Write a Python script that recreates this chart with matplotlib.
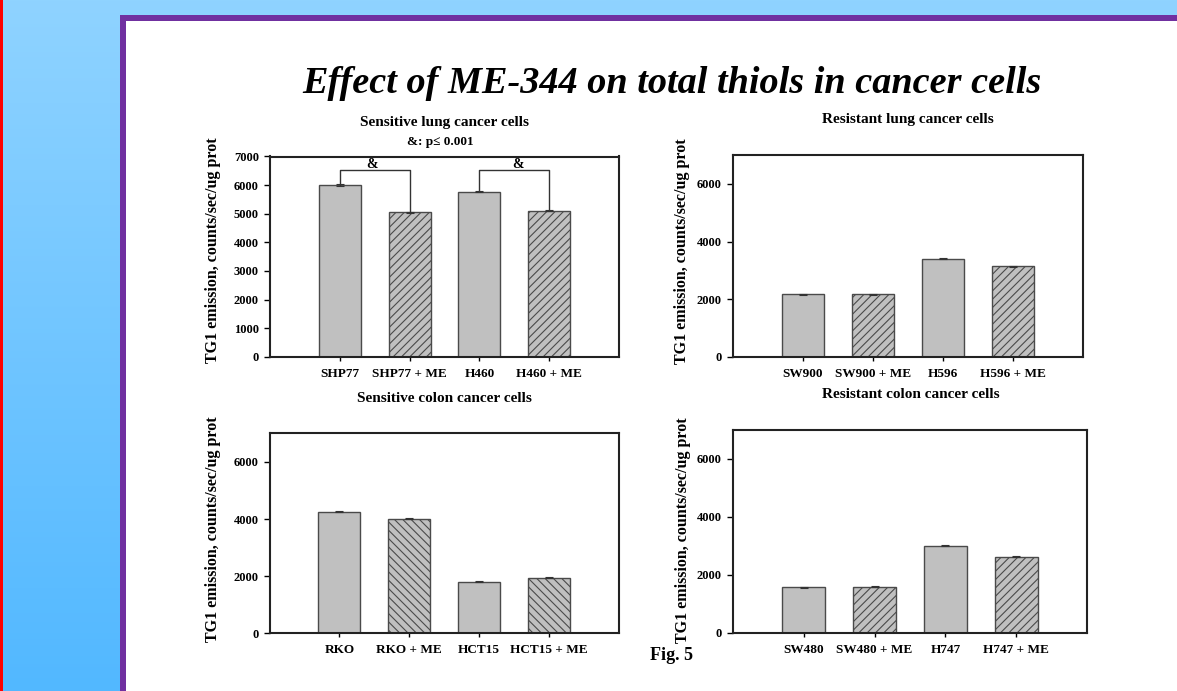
import numpy as np
import matplotlib.pyplot as plt
from matplotlib.patches import Rectangle

plt.rcParams['font.family'] = 'Liberation Serif'
plt.rcParams['font.weight'] = 'bold'
plt.rcParams['hatch.linewidth'] = 0.8

# ---- data ----
lung_sens_labels = ['SHP77', 'SHP77 + ME', 'H460', 'H460 + ME']
lung_sens_values = [6010, 5050, 5775, 5110]
lung_sens_err = [30, 25, 30, 25]

lung_res_labels = ['SW900', 'SW900 + ME', 'H596', 'H596 + ME']
lung_res_values = [2170, 2170, 3400, 3140]
lung_res_err = [20, 20, 20, 20]

colon_sens_labels = ['RKO', 'RKO + ME', 'HCT15', 'HCT15 + ME']
colon_sens_values = [4250, 4010, 1800, 1940]
colon_sens_err = [20, 20, 20, 20]

colon_res_labels = ['SW480', 'SW480 + ME', 'H747', 'H747 + ME']
colon_res_values = [1570, 1590, 3000, 2620]
colon_res_err = [20, 20, 20, 20]

W, H = 1177, 691
fig = plt.figure(figsize=(W / 100, H / 100), dpi=100)

def fx(px):
    return px / W

def fy(py):
    return 1 - py / H

# slide background: blue gradient, red edge, purple frame, white page
bg = fig.add_axes([0, 0, 1, 1], zorder=-10)
top = np.array([143, 211, 255]) / 255
bot = np.array([82, 184, 255]) / 255
t = np.linspace(0, 1, 256)[:, None, None]
grad = top * (1 - t) + bot * t
bg.imshow(grad, extent=[0, W, H, 0], aspect='auto')
bg.add_patch(Rectangle((0, 0), 2.5, H, color='#ff0000', lw=0))
bg.add_patch(Rectangle((120, 15), W - 120, 6, color='#7030a0', lw=0))
bg.add_patch(Rectangle((120, 15), 6, H - 15, color='#7030a0', lw=0))
bg.add_patch(Rectangle((126, 21), W - 126, H - 21, color='white', lw=0))
bg.set_xlim(0, W)
bg.set_ylim(H, 0)
bg.axis('off')


def panel(left, right, top_px, bottom_px, labels, values, errs, hatch, yticks):
    ax = fig.add_axes([fx(left), fy(bottom_px), (right - left) / W, (bottom_px - top_px) / H])
    x = np.arange(1, len(values) + 1)
    bars = ax.bar(x, values, width=0.6, color='#c0c0c0', edgecolor='#4a4a4a', linewidth=1,
                  yerr=errs, capsize=3,
                  error_kw=dict(elinewidth=0.8, capthick=0.8, ecolor='#333333'))
    for i, b in enumerate(bars):
        if i % 2 == 1:
            b.set_hatch(hatch)
    ax.set_xlim(0, 5)
    ax.set_ylim(0, 7000)
    ax.set_yticks(yticks)
    ax.set_xticks(x)
    ax.set_xticklabels(labels, fontsize=9.5)
    ax.tick_params(axis='y', direction='out', length=4, width=1, pad=4, labelsize=9)
    ax.tick_params(axis='x', direction='out', length=3, width=1, pad=5)
    for s in ax.spines.values():
        s.set_linewidth(1.5)
        s.set_color('#222222')
    return ax


ax1 = panel(270, 619, 156.5, 356.7, lung_sens_labels, lung_sens_values, lung_sens_err,
            '////', range(0, 7001, 1000))
ax2 = panel(732.5, 1083.3, 155.2, 356.7, lung_res_labels, lung_res_values, lung_res_err,
            '////', range(0, 7000, 2000))
ax3 = panel(269.5, 619, 433.3, 633.3, colon_sens_labels, colon_sens_values, colon_sens_err,
            '\\\\\\\\', range(0, 7000, 2000))
ax4 = panel(732.7, 1087.3, 430, 632.7, colon_res_labels, colon_res_values, colon_res_err,
            '////', range(0, 7000, 2000))

# significance brackets on sensitive lung panel
for a, b, amp_x in [(0, 1, 1.46), (2, 3, 3.56)]:
    y_top = 6540
    ax1.plot([a + 1, a + 1, b + 1, b + 1],
             [lung_sens_values[a] + lung_sens_err[a], y_top, y_top,
              lung_sens_values[b] + lung_sens_err[b]],
             color='#333333', lw=1)
    ax1.text(amp_x, 6730, '&', ha='center', va='center', fontsize=10)

# titles and labels
fig.text(fx(672), fy(93), 'Effect of ME-344 on total thiols in cancer cells',
         ha='center', va='baseline', fontsize=27.5, style='italic', weight='bold')
fig.text(fx(444.5), fy(122.3), 'Sensitive lung cancer cells', ha='center', va='center', fontsize=11)
fig.text(fx(440), fy(142.3), '&: p\u2264 0.001', ha='center', va='center', fontsize=9.5)
fig.text(fx(908), fy(120), 'Resistant lung cancer cells', ha='center', va='center', fontsize=11)
fig.text(fx(444.5), fy(398.3), 'Sensitive colon cancer cells', ha='center', va='center', fontsize=11)
fig.text(fx(910.8), fy(395), 'Resistant colon cancer cells', ha='center', va='center', fontsize=11)
fig.text(fx(671), fy(655), 'Fig. 5', ha='center', va='center', fontsize=13)

ylab = 'TG1 emission, counts/sec/ug prot'
for xp, yp in [(213, 250), (682.5, 251.5), (213, 529), (683, 530.5)]:
    fig.text(fx(xp), fy(yp), ylab, ha='center', va='center', rotation=90, fontsize=11.5)

fig.savefig('out.png', dpi=100)
